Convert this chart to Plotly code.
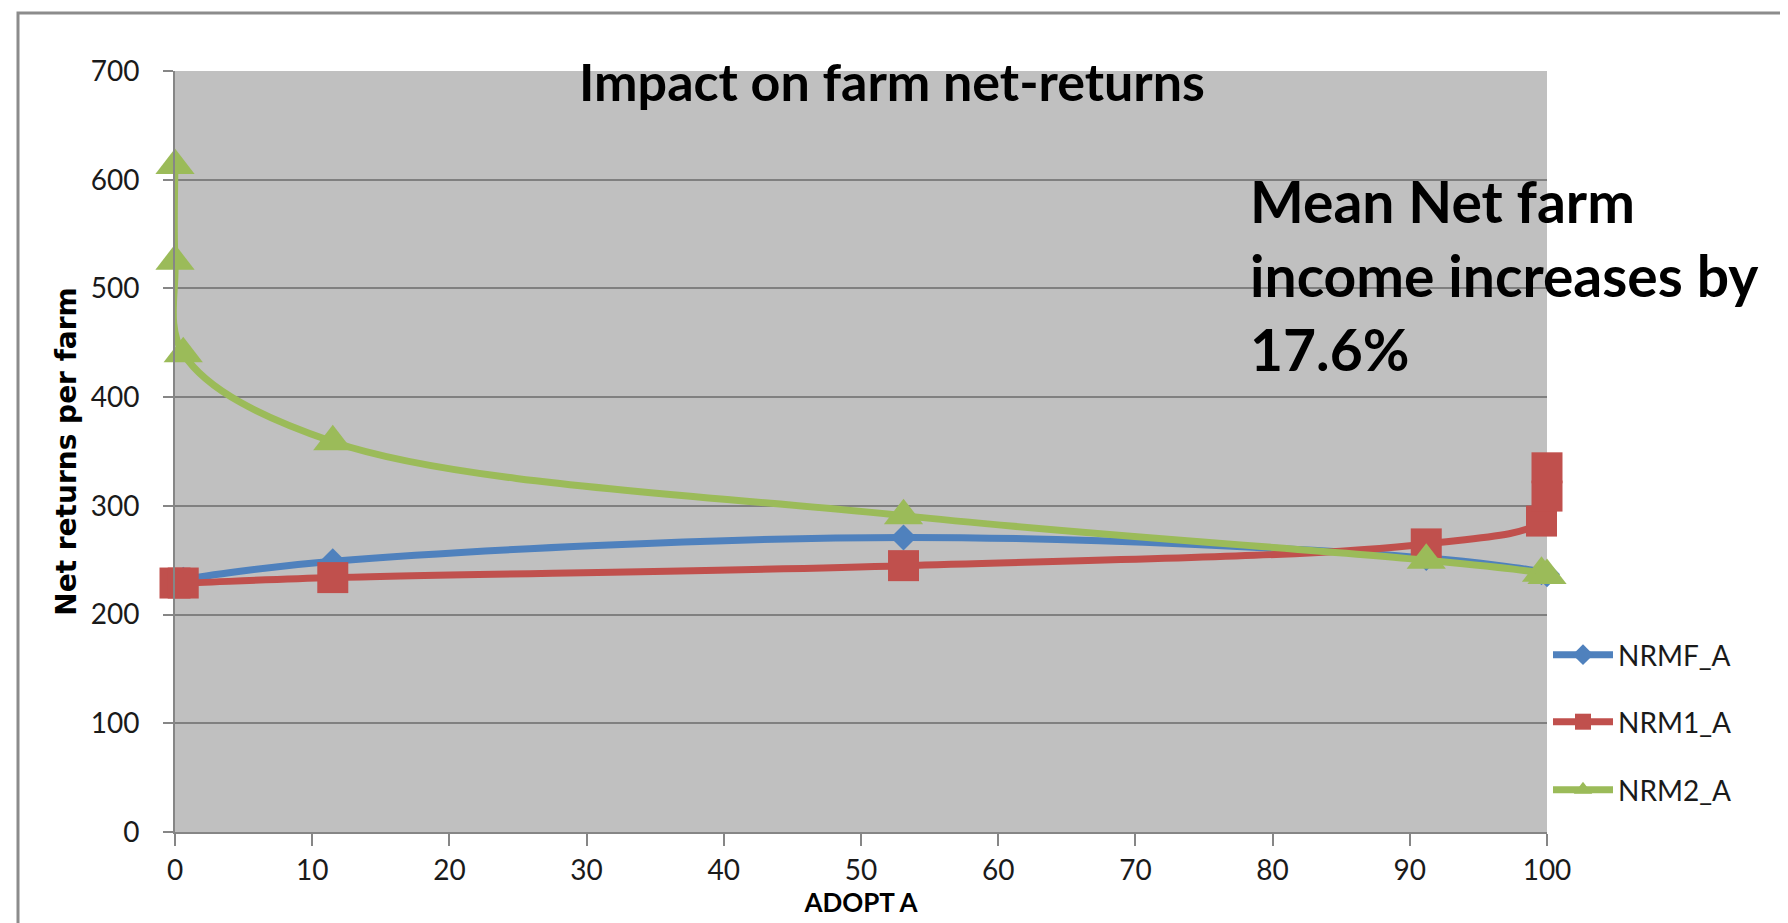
import plotly.graph_objects as go

# ---- data ----
nrmf_x = [0, 0.6, 11.5, 53.1, 91.2, 99.6, 100]
nrmf_y = [230, 232, 249, 271, 252, 239, 237]

nrm1_x = [0, 0.6, 11.5, 53.1, 91.2, 99.6, 100, 100]
nrm1_y = [229, 229, 234, 245, 265, 286, 309, 335]

nrm2_x = [0, 0, 0.6, 11.5, 53.1, 91.2, 99.6, 100]
nrm2_y = [613, 525, 440, 359, 291, 250, 238, 236]

x_ticks = [0, 10, 20, 30, 40, 50, 60, 70, 80, 90, 100]
y_ticks = [0, 100, 200, 300, 400, 500, 600, 700]

FONT = "Lato, Liberation Sans, sans-serif"

W, H = 1788, 923
L, R, T, B = 167, 249, 63, 99
PW, PH = W - L - R, H - T - B


def px_to_paper_x(px):
    return (px - L) / PW


def px_to_paper_y(py):
    return (H - B - py) / PH


fig = go.Figure()

fig.add_trace(go.Scatter(
    x=nrmf_x, y=nrmf_y, name="NRMF_A", mode="lines+markers",
    line=dict(color="#4F81BD", width=7, shape="spline", smoothing=1),
    marker=dict(symbol="diamond", size=20, color="#4F81BD"),
    legend="legend", cliponaxis=False,
))
fig.add_trace(go.Scatter(
    x=nrm1_x, y=nrm1_y, name="NRM1_A", mode="lines+markers",
    line=dict(color="#C0504D", width=7, shape="spline", smoothing=1),
    marker=dict(symbol="square", size=31, color="#C0504D"),
    legend="legend2", cliponaxis=False,
))
fig.add_trace(go.Scatter(
    x=nrm2_x, y=nrm2_y, name="NRM2_A", mode="lines+markers",
    line=dict(color="#9BBB59", width=7, shape="spline", smoothing=1),
    marker=dict(symbol="triangle-up", size=34, color="#9BBB59"),
    legend="legend3", cliponaxis=False,
))

legend_common = dict(
    x=px_to_paper_x(1540), xanchor="left", yanchor="middle",
    font=dict(family=FONT, size=28, color="#1a1a1a"),
    bgcolor="rgba(0,0,0,0)", itemsizing="trace", itemwidth=60,
)

fig.update_layout(
    width=W, height=H,
    showlegend=True,
    margin=dict(l=L, r=R, t=T, b=B, autoexpand=False),
    paper_bgcolor="white",
    plot_bgcolor="#C0C0C0",
    title=dict(
        text="<b>Impact on farm net-returns</b>",
        font=dict(family=FONT, size=52, color="#000000"),
        x=884 / W, xanchor="center",
        y=1 - 75 / H, yanchor="middle",
    ),
    legend=dict(y=px_to_paper_y(647), visible=True, **legend_common),
    legend2=dict(y=px_to_paper_y(714), visible=True, **legend_common),
    legend3=dict(y=px_to_paper_y(782), visible=True, **legend_common),
    xaxis=dict(
        range=[0, 100], tickvals=x_ticks, showgrid=False, zeroline=False,
        showline=True, linecolor="#868686", linewidth=2,
        ticks="outside", ticklen=12, tickwidth=1.5, tickcolor="#868686",
        ticklabelstandoff=0,
        tickfont=dict(family=FONT, size=28, color="#1a1a1a"),
        title=dict(text="<b>ADOPT A</b>", standoff=2,
                   font=dict(family=FONT, size=26, color="#000000")),
    ),
    yaxis=dict(
        range=[0, 700], tickvals=y_ticks, showgrid=True, gridcolor="#808080",
        gridwidth=2, zeroline=False,
        showline=True, linecolor="#868686", linewidth=2,
        ticks="outside", ticklen=10, tickwidth=1.5, tickcolor="#868686",
        ticklabelstandoff=18,
        tickfont=dict(family=FONT, size=28, color="#1a1a1a"),
        title=dict(text="<b>Net returns per farm</b>", standoff=6,
                   font=dict(family="DejaVu Sans", size=28, color="#000000")),
    ),
    annotations=[dict(
        text="<b>Mean Net farm<br>income increases by<br>17.6%</b>",
        xref="paper", yref="paper",
        x=px_to_paper_x(1240), y=px_to_paper_y(157),
        xanchor="left", yanchor="top", align="left", showarrow=False,
        font=dict(family=FONT, size=57, color="#000000"),
    )],
    shapes=[dict(
        type="rect", xref="paper", yref="paper",
        x0=px_to_paper_x(10), x1=px_to_paper_x(1775),
        y0=px_to_paper_y(960), y1=px_to_paper_y(5),
        line=dict(color="#8c8c8c", width=3), fillcolor="rgba(0,0,0,0)",
        layer="above",
    )],
)

fig.write_html("out.html")
